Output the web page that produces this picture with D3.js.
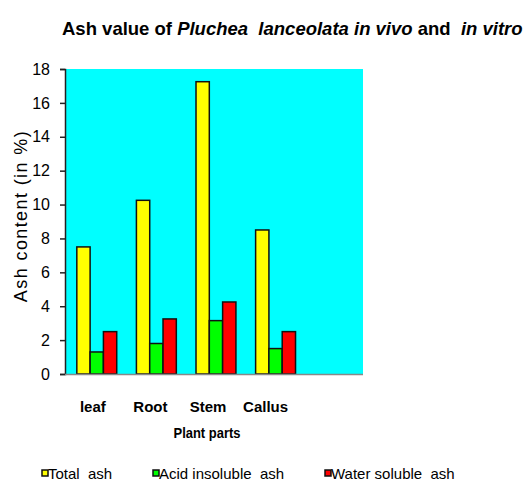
<!DOCTYPE html>
<html>
<head>
<meta charset="utf-8">
<script src="https://cdn.jsdelivr.net/npm/d3@7"></script>
<style>
  body { margin: 0; background: #fff; }
  svg text { font-family: "Liberation Sans", Arial, sans-serif; white-space: pre; }
</style>
</head>
<body>
<div id="chart"></div>
<script>
// plant parts (the last band is left empty, like the original)
var parts = ["leaf", "Root", "Stem", "Callus", ""];
var seriesNames = ["Total  ash", "Acid insoluble  ash", "Water soluble  ash"];
var seriesColors = ["#ffff00", "#00ff00", "#ff0000"];
var totalAsh = [7.5, 10.25, 17.25, 8.5];
var acidInsoluble = [1.3, 1.8, 3.15, 1.5];
var waterSoluble = [2.5, 3.25, 4.25, 2.5];
var yTicks = [0, 2, 4, 6, 8, 10, 12, 14, 16, 18];

var width = 531, height = 482;
var plot = { left: 65, right: 363, top: 69, bottom: 374 };

var svg = d3.select("#chart").append("svg")
  .attr("width", width)
  .attr("height", height);

var x = d3.scaleBand()
  .domain(parts)
  .range([plot.left, plot.right]);

var xInner = d3.scaleBand()
  .domain(d3.range(seriesNames.length))
  .range([0, x.bandwidth()])
  .paddingOuter(0.74)
  .align(0.6);

var y = d3.scaleLinear()
  .domain([0, 18])
  .range([plot.bottom, plot.top]);

// plot background
svg.append("rect")
  .attr("x", plot.left)
  .attr("y", plot.top)
  .attr("width", plot.right - plot.left)
  .attr("height", plot.bottom - plot.top)
  .style("fill", "#00ffff");

// title
var title = svg.append("text")
  .attr("x", 62)
  .attr("y", 35)
  .style("font-size", "18.5px")
  .style("font-weight", "bold");
title.append("tspan").text("Ash value of ");
title.append("tspan").style("font-style", "italic").text("Pluchea  lanceolata in vivo");
title.append("tspan").text(" and  ");
title.append("tspan").style("font-style", "italic").text("in vitro");

// bars
var data = [totalAsh, acidInsoluble, waterSoluble];
var groups = svg.append("g")
  .selectAll("g")
  .data(parts.slice(0, 4))
  .enter()
  .append("g")
  .attr("transform", function (d) { return "translate(" + x(d) + ",0)"; });

groups.selectAll("rect")
  .data(function (d, i) {
    return data.map(function (s, k) { return { k: k, v: s[i] }; });
  })
  .enter()
  .append("rect")
  .attr("x", function (d) { return xInner(d.k); })
  .attr("y", function (d) { return y(d.v); })
  .attr("width", xInner.bandwidth())
  .attr("height", function (d) { return y(0) - y(d.v); })
  .style("fill", function (d) { return seriesColors[d.k]; })
  .style("stroke", "#111")
  .style("stroke-width", 1.5);

// y axis
var yAxis = svg.append("g")
  .attr("transform", "translate(" + plot.left + ",0)")
  .call(d3.axisLeft(y).tickValues(yTicks).tickSize(5).tickPadding(10));
yAxis.select(".domain").style("stroke", "#222").style("stroke-width", 1.5);
yAxis.selectAll(".tick line").style("stroke", "#222").style("stroke-width", 1.5);
yAxis.selectAll("text")
  .style("font-size", "16px")
  .style("fill", "#000");

// base line
svg.append("line")
  .attr("x1", plot.left)
  .attr("x2", plot.right)
  .attr("y1", plot.bottom + 0.5)
  .attr("y2", plot.bottom + 0.5)
  .style("stroke", "#888")
  .style("stroke-width", 1.5);

// x labels
var xAxis = svg.append("g")
  .attr("transform", "translate(0," + plot.bottom + ")")
  .call(d3.axisBottom(x).tickSize(0).tickPadding(27));
xAxis.select(".domain").remove();
xAxis.selectAll("text")
  .attr("dx", function (d, i) { return -2 - 2 * i; })
  .style("font-size", "15px")
  .style("font-weight", "bold")
  .style("fill", "#000");

svg.append("text")
  .attr("x", 207)
  .attr("y", 438)
  .attr("text-anchor", "middle")
  .attr("textLength", 67)
  .attr("lengthAdjust", "spacingAndGlyphs")
  .style("font-size", "15px")
  .style("font-weight", "bold")
  .text("Plant parts");

// y title
svg.append("text")
  .attr("transform", "translate(27,216) rotate(-90)")
  .attr("text-anchor", "middle")
  .style("font-size", "18px")
  .style("letter-spacing", "1.4px")
  .text("Ash content (in %)");

// legend
var legendX = [42, 153, 325];
var legend = svg.append("g")
  .selectAll("g")
  .data(seriesNames)
  .enter()
  .append("g")
  .attr("transform", function (d, i) { return "translate(" + legendX[i] + ",473)"; });

legend.append("rect")
  .attr("x", 0)
  .attr("y", -3)
  .attr("width", 6)
  .attr("height", 6)
  .style("fill", function (d, i) { return seriesColors[i]; })
  .style("stroke", "#111")
  .style("stroke-width", 1.5);

legend.append("text")
  .attr("x", 6)
  .attr("y", 5.5)
  .style("font-size", "15px")
  .text(function (d) { return d; });
</script>
</body>
</html>
